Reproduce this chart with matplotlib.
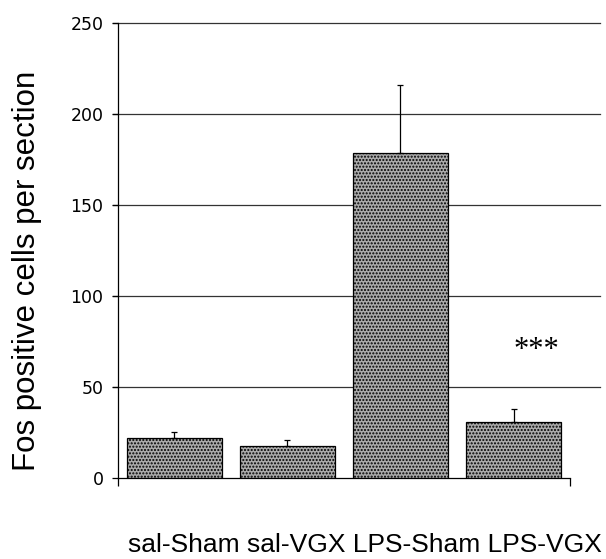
import matplotlib
matplotlib.use('Agg')
import matplotlib.pyplot as plt

groups = ['sal-Sham', 'sal-VGX', 'LPS-Sham', 'LPS-VGX']
means = [22, 17.5, 178.5, 30.5]
sem = [3, 3.5, 37.5, 7.5]
yticks = [0, 50, 100, 150, 200, 250]

fig = plt.figure(figsize=(6.06, 5.59), dpi=100)
ax = fig.add_axes([0.1947, 0.1449, 0.7459, 0.814])

x = range(len(groups))
ax.bar(x, means, width=0.84, color='#ababab', edgecolor='black', linewidth=0.9,
       hatch='.....', zorder=3)
ax.errorbar(x, means, yerr=[[0] * len(sem), sem], fmt='none', ecolor='black',
            elinewidth=0.9, capsize=2, capthick=0.9, zorder=4)

# gridlines run a bit past the right end of the x axis
for y in yticks[1:]:
    ax.axhline(y, xmin=-0.012, xmax=1.066, color='#333333', linewidth=0.9,
               clip_on=False, zorder=1)

ax.set_xlim(-0.5, 3.5)
ax.set_ylim(0, 250)
ax.set_yticks(yticks)
ax.set_yticklabels([str(v) for v in yticks], fontsize=12.5, family='DejaVu Sans')
ax.set_xticks([-0.5, 3.5])
ax.set_xticklabels(['', ''])
ax.tick_params(axis='y', direction='out', length=4, width=0.9, pad=6.5)
ax.tick_params(axis='x', direction='out', length=6, width=0.9)
for s in ['top', 'right']:
    ax.spines[s].set_visible(False)
for s in ['left', 'bottom']:
    ax.spines[s].set_linewidth(0.9)

fig.text(27 / 606, 1 - 271 / 559, 'Fos positive cells per section', rotation=90,
         ha='center', va='center', fontsize=22.5, family='Liberation Sans')
ax.text(3.2, 70, '***', ha='center', va='center', fontsize=22,
        family='Liberation Serif')

fig.text(364.5 / 606, 1 - 545 / 559, ' '.join(groups), ha='center', va='center',
         fontsize=19, family='Liberation Sans')

fig.savefig('out.png', dpi=100)
